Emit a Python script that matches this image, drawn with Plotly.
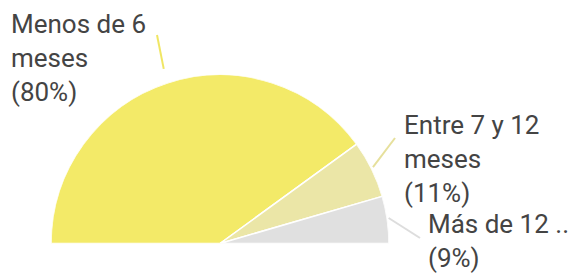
import math
import plotly.graph_objects as go

# ---- data ----
categories = ["Menos de 6 meses", "Entre 7 y 12 meses", "Más de 12 .."]
label_lines = ["Menos de 6<br>meses", "Entre 7 y 12<br>meses", "Más de 12 .."]
percents = [80, 11, 9]

# ---- style / layout ----
W, H = 578, 279
colors = ["#f3ea68", "#ebe6a7", "#e0e0e0"]
line_colors = ["#f0e664", "#e6e09c", "#dddddd"]
text_color = "#444444"
font_size = 26
cx, cy, R = 220, 242, 167          # pixel centre / radius of the half disc
lead_k = [1.09, 1.02, 1.02]        # leader start radius factor
lead_end = [(157, 35), (395, 138), (420, 238)]   # leader end (px)
label_pos = [(9, 7), (402, 108), (426, 207)]     # label top-left (px)

# ---- compute slice geometry from values (sector 0..180 deg) ----
total = sum(percents)
start = 180.0
centers, widths = [], []
for v in percents:
    w = v / total * 180.0
    centers.append(start - w / 2)
    widths.append(w)
    start -= w

fig = go.Figure()
fig.add_trace(go.Barpolar(
    r=[1] * len(percents),
    theta=centers,
    width=widths,
    marker=dict(color=colors, line=dict(color="white", width=1.5)),
    hoverinfo="skip",
    showlegend=False,
))

def px2paper(x, y):
    return x / W, 1 - y / H

shapes = []
annotations = []
for i, (mid, k) in enumerate(zip(centers, lead_k)):
    sx = cx + R * k * math.cos(math.radians(mid))
    sy = cy - R * k * math.sin(math.radians(mid))
    ex, ey = lead_end[i]
    x0, y0 = px2paper(sx, sy)
    x1, y1 = px2paper(ex, ey)
    shapes.append(dict(type="line", xref="paper", yref="paper",
                       x0=x0, y0=y0, x1=x1, y1=y1,
                       line=dict(color=line_colors[i], width=2)))
    lx, ly = px2paper(*label_pos[i])
    annotations.append(dict(
        xref="paper", yref="paper", x=lx, y=ly,
        xanchor="left", yanchor="top", align="left",
        text=f"{label_lines[i]}<br>({percents[i]}%)",
        showarrow=False,
        font=dict(size=font_size, color=text_color, family="Roboto, Arial, sans-serif"),
    ))

dx0, dy0 = px2paper(cx - R - 2, cy + 2)
dx1, dy1 = px2paper(cx + R + 2, cy - R - 1)
fig.update_layout(
    width=W, height=H,
    margin=dict(l=0, r=0, t=0, b=0),
    paper_bgcolor="white",
    plot_bgcolor="white",
    polar=dict(
        domain=dict(x=[dx0, dx1], y=[dy0, dy1]),
        sector=[0, 180],
        hole=0,
        bgcolor="white",
        radialaxis=dict(visible=False, range=[0, 1]),
        angularaxis=dict(visible=False, direction="counterclockwise", rotation=0),
    ),
    shapes=shapes,
    annotations=annotations,
)

fig.write_html("out.html", config={"displayModeBar": False},
               post_script="document.body.style.margin='0';")
